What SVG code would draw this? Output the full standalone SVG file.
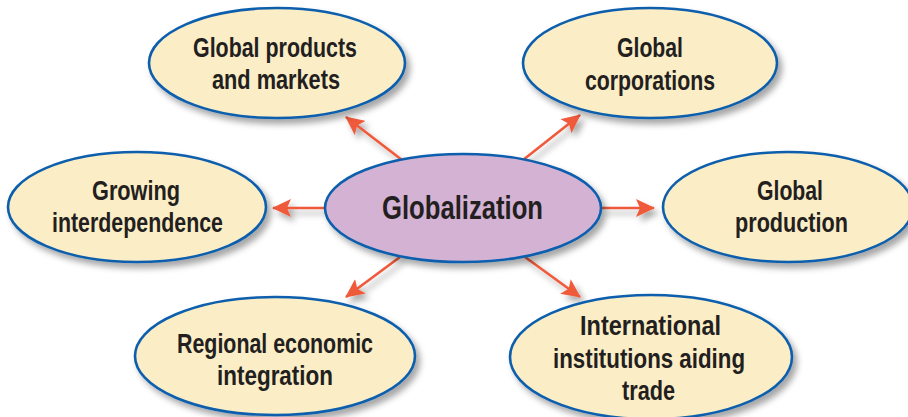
<svg xmlns="http://www.w3.org/2000/svg" width="908" height="417" viewBox="0 0 908 417">
<defs>
<filter id="sh" x="-20%" y="-20%" width="140%" height="150%">
<feDropShadow dx="4" dy="5" stdDeviation="3" flood-color="#000" flood-opacity="0.35"/>
</filter>
<marker id="ah" markerUnits="userSpaceOnUse" markerWidth="20" markerHeight="18" refX="18" refY="9" orient="auto">
<path d="M0,0 L19,9 L0,18 L4,9 Z" fill="#ef5a3b"/>
</marker>
<style>
.node ellipse{fill:#fbedc6;stroke:#0b5fad;stroke-width:2.6;filter:url(#sh)}
#globalization ellipse{fill:#d4b2d4}
text{font-family:"Liberation Sans",Arial,sans-serif;font-weight:bold;fill:#231f20;text-anchor:middle;font-size:28px}
#globalization text{font-size:33px}
.conn line{stroke:#ef5a3b;stroke-width:2.6;marker-end:url(#ah)}
.conn{filter:url(#sh)}
</style>
</defs>
<g class="conn" id="connectors">
<line x1="402" y1="160" x2="346" y2="117"/>
<line x1="523" y1="160" x2="580" y2="115"/>
<line x1="326" y1="208" x2="273" y2="208"/>
<line x1="601" y1="208" x2="654" y2="208"/>
<line x1="400" y1="257" x2="346" y2="297"/>
<line x1="525" y1="257" x2="580" y2="297"/>
</g>
<g class="node" id="global-products">
<ellipse cx="277" cy="63" rx="128" ry="55"/>
<text x="275" y="57" textLength="164" lengthAdjust="spacingAndGlyphs">Global products</text>
<text x="276" y="89" textLength="128" lengthAdjust="spacingAndGlyphs">and markets</text>
</g>
<g class="node" id="global-corporations">
<ellipse cx="650" cy="63" rx="127" ry="55"/>
<text x="650" y="57" textLength="66" lengthAdjust="spacingAndGlyphs">Global</text>
<text x="650" y="90" textLength="130" lengthAdjust="spacingAndGlyphs">corporations</text>
</g>
<g class="node" id="growing-interdependence">
<ellipse cx="137" cy="207" rx="129" ry="55"/>
<text x="136" y="200" textLength="88" lengthAdjust="spacingAndGlyphs">Growing</text>
<text x="137.5" y="232" textLength="171" lengthAdjust="spacingAndGlyphs">interdependence</text>
</g>
<g class="node" id="global-production">
<ellipse cx="788" cy="207" rx="125" ry="55"/>
<text x="790" y="200" textLength="66" lengthAdjust="spacingAndGlyphs">Global</text>
<text x="791.5" y="232" textLength="113" lengthAdjust="spacingAndGlyphs">production</text>
</g>
<g class="node" id="regional-integration">
<ellipse cx="275" cy="356" rx="140" ry="59"/>
<text x="275" y="353" textLength="196" lengthAdjust="spacingAndGlyphs">Regional economic</text>
<text x="275" y="385" textLength="116" lengthAdjust="spacingAndGlyphs">integration</text>
</g>
<g class="node" id="international-institutions">
<ellipse cx="651" cy="357" rx="141" ry="62"/>
<text x="650.5" y="335" textLength="141" lengthAdjust="spacingAndGlyphs">International</text>
<text x="649" y="368" textLength="192" lengthAdjust="spacingAndGlyphs">institutions aiding</text>
<text x="648.5" y="400" textLength="53" lengthAdjust="spacingAndGlyphs">trade</text>
</g>
<g class="node" id="globalization">
<ellipse cx="463" cy="208" rx="138" ry="54"/>
<text x="462.5" y="219" textLength="161" lengthAdjust="spacingAndGlyphs">Globalization</text>
</g>
</svg>
